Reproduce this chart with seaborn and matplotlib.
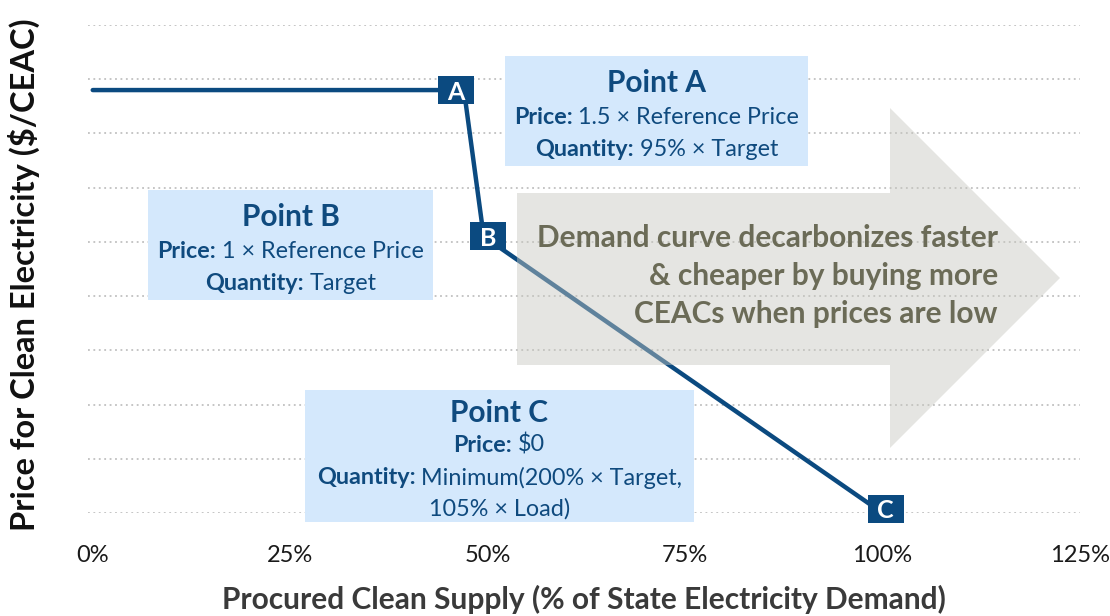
import matplotlib
matplotlib.use('Agg')
import matplotlib.pyplot as plt
import seaborn as sns
from matplotlib.patches import Rectangle, Polygon
from matplotlib.path import Path
from matplotlib.transforms import offset_copy

# Demand curve points (quantity in % of state demand, price relative to reference)
quantity = [0, 47, 49.5, 100]
price = [1.56, 1.56, 1.02, 0.0]
point_names = ['A', 'B', 'C']
point_index = [1, 2, 3]
label_offsets = [(-8, 0), (4, 0), (3, 4)]  # pixels

x_ticks = [0, 25, 50, 75, 100, 125]
x_tick_labels = ['0%', '25%', '50%', '75%', '100%', '125%']
grid_levels = [0, 0.2, 0.4, 0.6, 0.8, 1.0, 1.2, 1.4, 1.6, 1.8]

box_titles = ['Point A', 'Point B', 'Point C']
box_lines = [
    [('Price:', '1.5 × Reference Price'), ('Quantity:', '95% × Target')],
    [('Price:', '1 × Reference Price'), ('Quantity:', 'Target')],
    [('Price:', '$0'), ('Quantity:', 'Minimum(200% × Target,'), ('', '105% × Load)')],
]
arrow_text = 'Demand curve decarbonizes faster\n& cheaper by buying more\nCEACs when prices are low'

# colours
line_blue = '#0b4a80'
text_blue = '#0f4a7e'
box_fill = '#d4e8fc'
arrow_col = '#c7c7bf'
arrow_txt = '#6b6b57'

W, H = 1110, 616

sns.set_theme(style='white')
plt.rcParams['font.family'] = ['Lato', 'DejaVu Sans']

fig = plt.figure(figsize=(W / 100, H / 100), dpi=100)
ax = fig.add_axes([88 / W, 1 - 513 / H, (1080 - 88) / W, (513 - 25) / H])

sns.lineplot(x=quantity, y=price, sort=False, color=line_blue, linewidth=3.2,
             ax=ax, zorder=3, clip_on=False)

ax.set_xlim(-0.6, 125)
ax.set_ylim(0, 1.8)
ax.set_xticks(x_ticks)
ax.set_xticklabels(x_tick_labels, fontsize=17, color='#1a1a1a')
ax.set_yticks(grid_levels)
ax.set_yticklabels([])
ax.tick_params(length=0, axis='x', pad=23)
ax.grid(axis='y', color='#c0c0c0', linestyle=(0, (1, 2)), linewidth=1.3)
ax.grid(axis='x', visible=False)
sns.despine(ax=ax, left=True, bottom=True)

ax.set_xlabel('Procured Clean Supply (% of State Electricity Demand)', fontsize=21.5,
              weight='bold', color='#3a3a3a', labelpad=14)
ax.set_ylabel('Price for Clean Electricity ($/CEAC)', fontsize=23.5, weight='bold', color='#111111')
ax.yaxis.set_label_coords(-0.048, 0.488)

# letter markers (37 x 28 px dark blue boxes)
rect_marker = Path([(-1, -28 / 37), (1, -28 / 37), (1, 28 / 37), (-1, 28 / 37), (-1, -28 / 37)], closed=True)
for name, i, (dx, dy) in zip(point_names, point_index, label_offsets):
    tr = offset_copy(ax.transData, fig=fig, x=dx, y=dy, units='dots')
    ax.plot([quantity[i]], [price[i]], marker=rect_marker, markersize=26.6, color=line_blue,
            markeredgewidth=0, linestyle='none', transform=tr, clip_on=False, zorder=5)
    ax.text(quantity[i], price[i], name, transform=tr, ha='center', va='center_baseline',
            fontsize=18, weight='bold', color='white', zorder=6, clip_on=False)


def fx(x):
    return x / W


def fy(y):
    return 1 - y / H


# big grey arrow
arrow_px = [(517, 193), (890, 193), (890, 108), (1060, 278), (890, 448), (890, 365), (517, 365)]
fig.add_artist(Polygon([(fx(x), fy(y)) for x, y in arrow_px], closed=True, transform=fig.transFigure,
                       fc=arrow_col, ec='none', alpha=0.45, zorder=2))
fig.text(fx(998), fy(276), arrow_text, ha='right', va='center', fontsize=21.5, weight='bold',
         color=arrow_txt, linespacing=1.44, zorder=4)

# annotation boxes
box_rects = [(505, 56, 808, 166), (148, 190, 433, 300), (305, 390, 694, 522)]
box_rows = [[81, 116, 147], [215, 249, 281], [411, 443, 476, 507]]
body_size = 16.8

renderer = fig.canvas.get_renderer()
t1 = fig.text(0, 0, 'a a', fontsize=body_size)
t2 = fig.text(0, 0, 'aa', fontsize=body_size)
space_w = t1.get_window_extent(renderer).width - t2.get_window_extent(renderer).width
t1.remove()
t2.remove()

for title, lines, (x0, y0, x1, y1), rows in zip(box_titles, box_lines, box_rects, box_rows):
    fig.add_artist(Rectangle((fx(x0), fy(y1)), (x1 - x0) / W, (y1 - y0) / H,
                             transform=fig.transFigure, fc=box_fill, ec='none', zorder=2))
    xc = (x0 + x1) / 2
    fig.text(fx(xc), fy(rows[0]), title, ha='center', va='center_baseline', fontsize=21.5,
             weight='bold', color=text_blue, zorder=4)
    for (bold, normal), yr in zip(lines, rows[1:]):
        parts = []
        if bold:
            parts.append(fig.text(0, fy(yr), bold, fontsize=body_size, weight='bold', color=text_blue,
                                  va='center_baseline', zorder=4))
        parts.append(fig.text(0, fy(yr), normal, fontsize=body_size, color=text_blue,
                              va='center_baseline', zorder=4))
        widths = [p.get_window_extent(renderer).width for p in parts]
        total = sum(widths) + space_w * (len(parts) - 1)
        x = xc - total / 2
        for p, w in zip(parts, widths):
            p.set_x(fx(x))
            x += w + space_w

fig.savefig('out.png', dpi=100)
